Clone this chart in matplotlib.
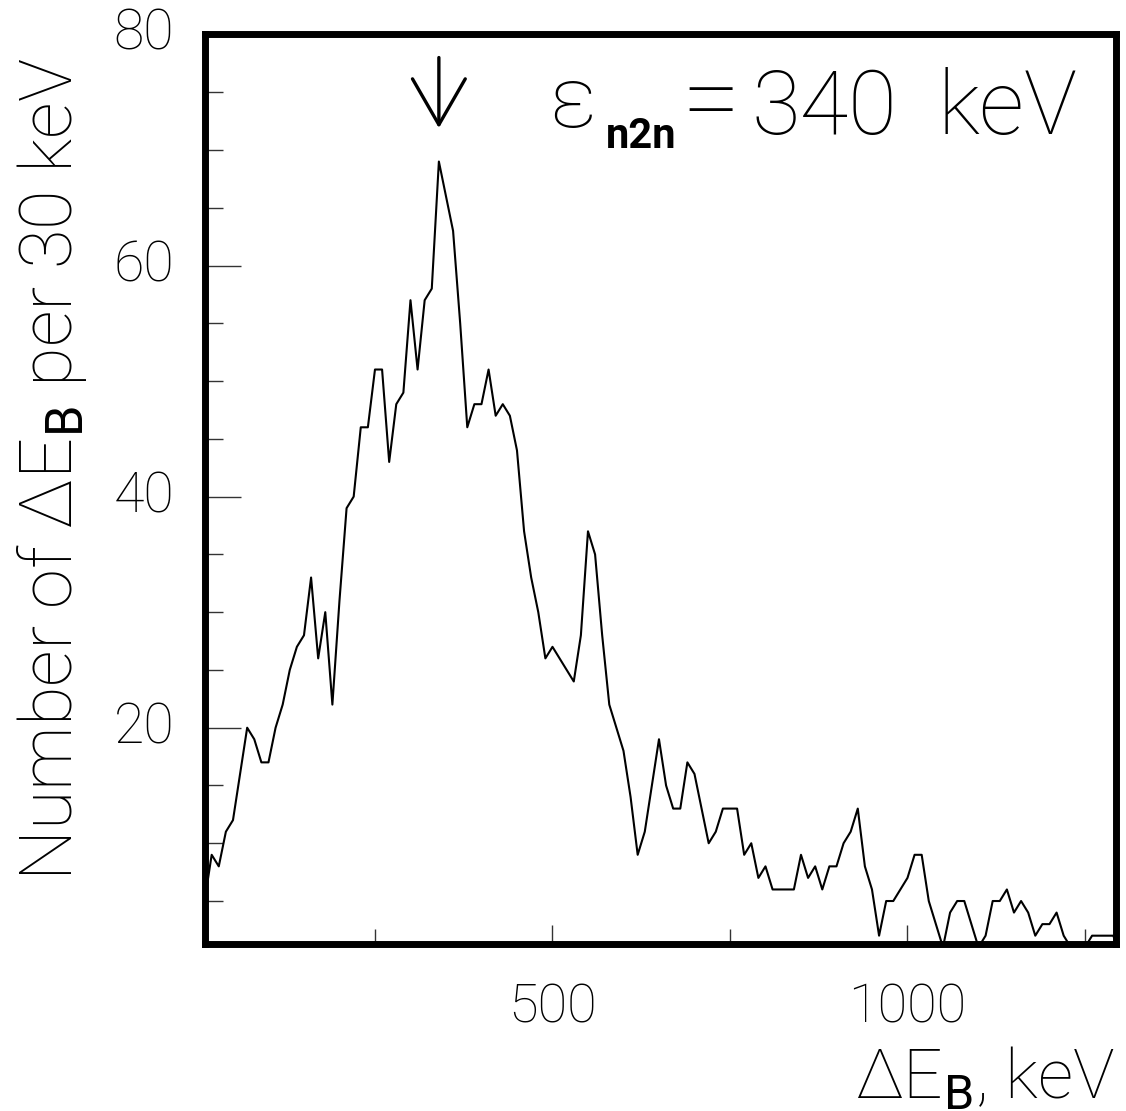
#!/usr/bin/env python3

import matplotlib
matplotlib.use('Agg')
import matplotlib.pyplot as plt
import numpy as np

# spectrum: counts per 30 keV window, sampled every 10 keV
energy_kev = np.arange(10, 1310, 10)
counts = [
    5, 9, 8, 11, 12, 16, 20, 19, 17, 17,          # 10-100
    20, 22, 25, 27, 28, 33, 26, 30, 22, 31,       # 110-200
    39, 40, 46, 46, 51, 51, 43, 48, 49, 57,       # 210-300
    51, 57, 58, 69, 66, 63, 55, 46, 48, 48,       # 310-400
    51, 47, 48, 47, 44, 37, 33, 30, 26, 27,       # 410-500
    26, 25, 24, 28, 37, 35, 28, 22, 20, 18,       # 510-600
    14, 9, 11, 15, 19, 15, 13, 13, 17, 16,        # 610-700
    13, 10, 11, 13, 13, 13, 9, 10, 7, 8,          # 710-800
    6, 6, 6, 6, 9, 7, 8, 6, 8, 8,                 # 810-900
    10, 11, 13, 8, 6, 2, 5, 5, 6, 7,              # 910-1000
    9, 9, 5, 3, 1, 4, 5, 5, 3, 1,                 # 1010-1100
    2, 5, 5, 6, 4, 5, 4, 2, 3, 3,                 # 1110-1200
    4, 2, 1, 1, 1, 2, 2, 2, 2, 0,                 # 1210-1300
]
eps_n2n = 340  # keV, marked with the arrow

xmajor = [500, 1000]
xminor = [250, 750, 1250]
ymajor = [20, 40, 60, 80]
yminor = [5, 10, 15, 25, 30, 35, 45, 50, 55, 65, 70, 75]

plt.rcParams['mathtext.fontset'] = 'custom'
plt.rcParams['mathtext.rm'] = 'Roboto:light'
plt.rcParams['mathtext.bf'] = 'Roboto'

TXT = dict(family=['Roboto', 'DejaVu Sans'], weight='light')

fig = plt.figure(figsize=(11.26, 11.11), dpi=100)
ax = fig.add_axes([0.182, 0.150, 0.809, 0.819])

ax.plot(energy_kev, counts, color='black', linewidth=1.5)

ax.set_xlim(10.5, 1293.5)
ax.set_ylim(1.25, 80)

for sp in ax.spines.values():
    sp.set_linewidth(5)

ax.set_xticks(xmajor)
ax.set_xticks(xminor, minor=True)
ax.set_yticks(ymajor)
ax.set_yticks(yminor, minor=True)
ax.tick_params(which='both', direction='in', top=False, right=False,
               width=1.0, color='#333333')
ax.tick_params(axis='y', which='major', length=26, pad=22)
ax.tick_params(axis='y', which='minor', length=13)
ax.tick_params(axis='x', which='major', length=14, pad=27)
ax.tick_params(axis='x', which='minor', length=11)
ax.set_xticklabels([str(v) for v in xmajor], fontsize=39, **TXT)
ax.set_yticklabels([str(v) for v in ymajor], fontsize=40, **TXT)
for t in ax.get_yticklabels():
    t.set_va('center')

fig.text(52 / 1126, 1 - 469 / 1111, r'Number of ΔE$_{\mathbf{B}}$ per 30 keV',
         rotation=90, ha='center', va='center', fontsize=52, **TXT)
fig.text(1115 / 1126, 1 - 1099 / 1111, r'ΔE$_{\mathbf{B}}$, keV',
         ha='right', va='baseline', fontsize=50, **TXT)

# epsilon label built from pieces so the subscript stays small
ax.text(0.430, 0.898, 'ε', transform=ax.transAxes, ha='right',
        va='baseline', fontsize=62, **TXT)
ax.text(0.517, 0.875, 'n2n', transform=ax.transAxes, ha='right',
        va='baseline', fontsize=30, family=['Roboto', 'DejaVu Sans'],
        weight='bold')
ax.text(0.523, 0.891, '=', transform=ax.transAxes, ha='left',
        va='baseline', fontsize=76, **TXT)
ax.text(0.600, 0.891, f'{eps_n2n}', transform=ax.transAxes,
        ha='left', va='baseline', fontsize=64, **TXT)
ax.text(0.958, 0.891, 'keV', transform=ax.transAxes,
        ha='right', va='baseline', fontsize=64, **TXT)

ax.annotate('', xy=(eps_n2n, 71.9), xytext=(eps_n2n, 78.0),
            arrowprops=dict(arrowstyle='->, head_length=1.65, head_width=0.95',
                            lw=2.4, color='black', shrinkA=0, shrinkB=0,
                            mutation_scale=20))

fig.savefig('out.png', dpi=100)
